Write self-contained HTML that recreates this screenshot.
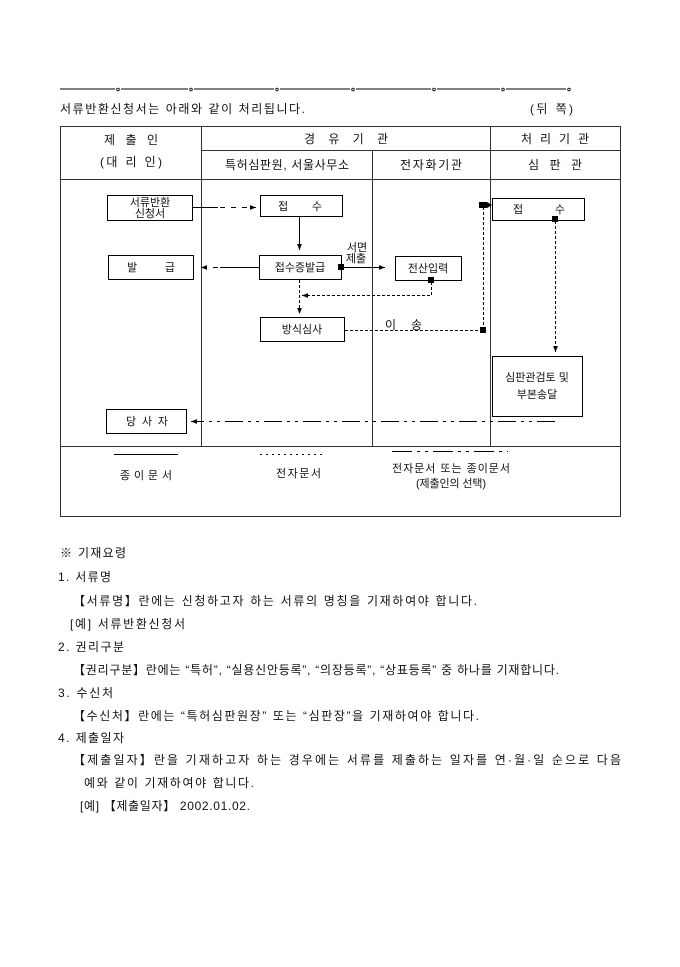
<!DOCTYPE html>
<html><head><meta charset="utf-8"><style>
html,body{margin:0;padding:0;background:#fff}
svg text{font-family:"Liberation Sans","Noto Sans CJK KR","NanumGothic",sans-serif;fill:#111}
</style></head><body>
<svg width="680" height="962" viewBox="0 0 680 962" xmlns="http://www.w3.org/2000/svg">
<defs>
<marker id="a" viewBox="0 0 10 10" refX="10" refY="5" markerWidth="6" markerHeight="6" orient="auto"><path d="M0,1 L10,5 L0,9z" fill="#000"/></marker>
</defs>
<g stroke="#000" stroke-width="1">
<line x1="60" y1="89" x2="115" y2="89"/><line x1="121" y1="89" x2="188" y2="89"/><line x1="194" y1="89" x2="274" y2="89"/><line x1="280" y1="89" x2="350" y2="89"/><line x1="356" y1="89" x2="431" y2="89"/><line x1="437" y1="89" x2="500" y2="89"/><line x1="506" y1="89" x2="566" y2="89"/>
</g>
<g fill="none" stroke="#000" stroke-width="0.8">
<circle cx="118" cy="89.5" r="1.3"/><circle cx="191" cy="89.5" r="1.3"/><circle cx="277" cy="89.5" r="1.3"/><circle cx="353" cy="89.5" r="1.3"/><circle cx="434" cy="89.5" r="1.3"/><circle cx="503" cy="89.5" r="1.3"/><circle cx="569" cy="89.5" r="1.3"/>
</g>
<text x="60" y="113" font-size="12" textLength="245" lengthAdjust="spacing">서류반환신청서는 아래와 같이 처리됩니다.</text>
<text x="530" y="113" font-size="12" textLength="43" lengthAdjust="spacing">(뒤 쪽)</text>

<g stroke="#333" stroke-width="1" fill="none">
<rect x="60.5" y="126.5" width="560" height="390"/>
<line x1="201.5" y1="126" x2="201.5" y2="446"/>
<line x1="490.5" y1="126" x2="490.5" y2="446"/>
<line x1="372.5" y1="150" x2="372.5" y2="446"/>
<line x1="201" y1="150.5" x2="621" y2="150.5"/>
<line x1="60" y1="179.5" x2="621" y2="179.5"/>
<line x1="60" y1="446.5" x2="621" y2="446.5"/>
</g>
<g font-size="12">
<text x="104" y="144" textLength="54" lengthAdjust="spacing">제 출 인</text>
<text x="100" y="166" textLength="62" lengthAdjust="spacing">(대 리 인)</text>
<text x="304" y="143" textLength="84" lengthAdjust="spacing">경 유 기 관</text>
<text x="521" y="143" textLength="68" lengthAdjust="spacing">처 리 기 관</text>
<text x="225" y="169" textLength="124" lengthAdjust="spacing">특허심판원, 서울사무소</text>
<text x="400" y="169" textLength="62" lengthAdjust="spacing">전자화기관</text>
<text x="528" y="169" textLength="54" lengthAdjust="spacing">심 판 관</text>
</g>

<g stroke="#000" stroke-width="1" fill="#fff">
<rect x="107.5" y="195.5" width="85" height="25"/>
<rect x="260.5" y="195.5" width="82" height="21"/>
<rect x="492.5" y="198.5" width="92" height="22"/>
<rect x="108.5" y="255.5" width="85" height="24"/>
<rect x="259.5" y="255.5" width="82" height="24"/>
<rect x="395.5" y="256.5" width="66" height="24"/>
<rect x="260.5" y="317.5" width="84" height="24"/>
<rect x="492.5" y="356.5" width="90" height="60"/>
<rect x="106.5" y="409.5" width="80" height="24"/>
</g>
<g font-size="11">
<text x="150" y="206" text-anchor="middle">서류반환</text>
<text x="150" y="217" text-anchor="middle">신청서</text>
<text x="278" y="210" textLength="44" lengthAdjust="spacing">접 수</text>
<text x="513" y="213" textLength="52" lengthAdjust="spacing">접 수</text>
<text x="127" y="271" textLength="48" lengthAdjust="spacing">발 급</text>
<text x="300" y="271" text-anchor="middle">접수증발급</text>
<text x="428" y="272" text-anchor="middle">전산입력</text>
<text x="302" y="333" text-anchor="middle">방식심사</text>
<text x="537" y="381" text-anchor="middle">심판관검토 및</text>
<text x="537" y="398" text-anchor="middle">부본송달</text>
<text x="126" y="425" textLength="42" lengthAdjust="spacing">당 사 자</text>
<text x="357" y="251" text-anchor="middle">서면</text>
<text x="356" y="262" text-anchor="middle">제출</text>
<text x="385" y="329" font-size="12">이</text>
<text x="411" y="329" font-size="12">송</text>
</g>

<g stroke="#000" stroke-width="1" fill="none">
<line x1="193" y1="207.5" x2="218" y2="207.5"/>
<line x1="220" y1="207.5" x2="256" y2="207.5" stroke-dasharray="5,6" marker-end="url(#a)"/>
<line x1="299.5" y1="217" x2="299.5" y2="250" marker-end="url(#a)"/>
<line x1="259" y1="267.5" x2="220" y2="267.5"/>
<line x1="218" y1="267.5" x2="201" y2="267.5" stroke-dasharray="5,6" marker-end="url(#a)"/>
<line x1="342" y1="267.5" x2="385" y2="267.5" marker-end="url(#a)"/>
<g stroke-dasharray="3,2">
<polyline points="431.5,282 431.5,295.5 302,295.5" marker-end="url(#a)"/>
<line x1="299.5" y1="280" x2="299.5" y2="314" marker-end="url(#a)"/>
<line x1="345" y1="330.5" x2="483" y2="330.5"/>
<line x1="483.5" y1="330" x2="483.5" y2="206"/>
<line x1="555.5" y1="221" x2="555.5" y2="352" marker-end="url(#a)"/>
</g>
<line x1="555" y1="421.5" x2="191" y2="421.5" stroke-dasharray="18,5,3,5,3,5" marker-end="url(#a)"/>
</g>
<g fill="#000">
<rect x="338" y="264" width="6" height="6"/>
<rect x="428" y="277" width="6" height="6"/>
<rect x="480" y="327" width="6" height="6"/>
<rect x="552" y="216" width="6" height="6"/>
<path d="M479,202 L487,202 L492,205 L487,208 L479,208z"/>
</g>

<g stroke="#000" stroke-width="1">
<line x1="114" y1="454.5" x2="178" y2="454.5"/>
<line x1="260" y1="454.5" x2="325" y2="454.5" stroke-dasharray="2,4"/>
<line x1="392" y1="451.5" x2="508" y2="451.5" stroke-dasharray="20,5,3,5,3,5"/>
</g>
<g font-size="11">
<text x="120" y="479" textLength="52" lengthAdjust="spacing">종이문서</text>
<text x="276" y="477" textLength="45" lengthAdjust="spacing">전자문서</text>
<text x="392" y="472" textLength="118" lengthAdjust="spacing">전자문서 또는 종이문서</text>
<text x="416" y="487" textLength="70" lengthAdjust="spacing">(제출인의 선택)</text>
</g>

<g font-size="12">
<text x="60" y="557" textLength="66" lengthAdjust="spacing">※ 기재요령</text>
<text x="58" y="581" textLength="53" lengthAdjust="spacing">1. 서류명</text>
<text x="73" y="605" textLength="404" lengthAdjust="spacing">【서류명】란에는 신청하고자 하는 서류의 명칭을 기재하여야 합니다.</text>
<text x="70" y="628" textLength="115" lengthAdjust="spacing">[예] 서류반환신청서</text>
<text x="58" y="651" textLength="66" lengthAdjust="spacing">2. 권리구분</text>
<text x="73" y="674" textLength="486" lengthAdjust="spacing">【권리구분】란에는 “특허”, “실용신안등록”, “의장등록”, “상표등록” 중 하나를 기재합니다.</text>
<text x="58" y="697" textLength="55" lengthAdjust="spacing">3. 수신처</text>
<text x="73" y="720" textLength="406" lengthAdjust="spacing">【수신처】란에는 “특허심판원장” 또는 “심판장”을 기재하여야 합니다.</text>
<text x="58" y="742" textLength="66" lengthAdjust="spacing">4. 제출일자</text>
<text x="73" y="764" textLength="548" lengthAdjust="spacing">【제출일자】란을 기재하고자 하는 경우에는 서류를 제출하는 일자를 연·월·일 순으로 다음</text>
<text x="84" y="787" textLength="170" lengthAdjust="spacing">예와 같이 기재하여야 합니다.</text>
<text x="80" y="810" textLength="170" lengthAdjust="spacing">[예] 【제출일자】 2002.01.02.</text>
</g>
</svg>
</body></html>
